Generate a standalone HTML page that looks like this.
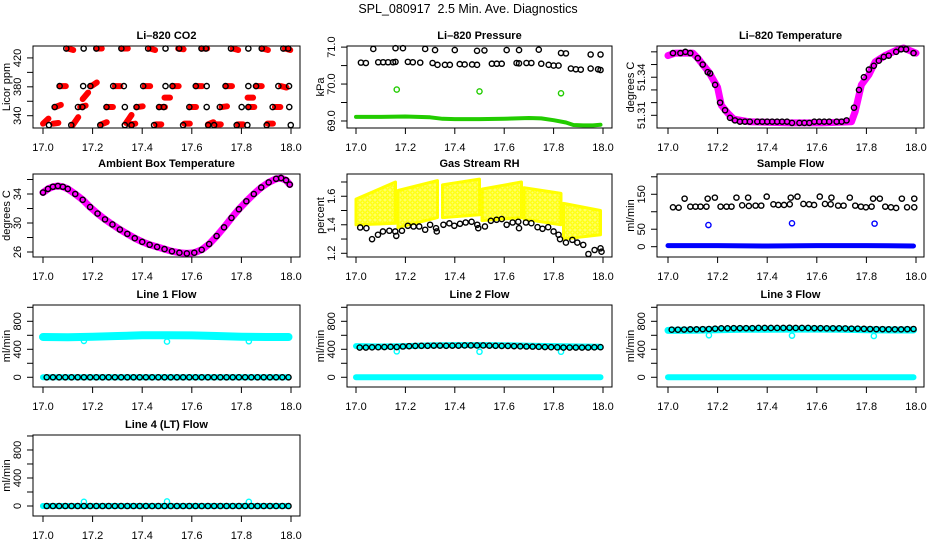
<!DOCTYPE html>
<html><head><meta charset="utf-8"><title>SPL_080917 Diagnostics</title>
<style>
html,body{margin:0;padding:0;background:#fff;}
svg{display:block;font-family:"Liberation Sans",Arial,sans-serif;}
</style></head>
<body>
<svg id="chart" width="936" height="540" viewBox="0 0 936 540" xmlns="http://www.w3.org/2000/svg">
<defs>
<pattern id="ringpat" width="5" height="5" patternUnits="userSpaceOnUse">
<rect width="5" height="5" fill="#ffff66"/>
<circle cx="2.5" cy="2.5" r="1.7" fill="none" stroke="#ffff00" stroke-width="1.2"/>
</pattern>
</defs>
<rect x="0" y="0" width="936" height="540" fill="#fff"/>
<text x="468" y="13" text-anchor="middle" font-size="12.5" style="white-space:pre">SPL_080917  2.5 Min. Ave. Diagnostics</text>
</svg>
<script>
// ---------- data ----------
const xTicks=[17.0,17.2,17.4,17.6,17.8,18.0];
const xTickLabels=["17.0","17.2","17.4","17.6","17.8","18.0"];

// CO2
const co2X=[17.094,17.164,17.215,17.316,17.424,17.494,17.549,17.639,17.657,17.758,17.828,17.882,17.969,17.989,
17.067,17.162,17.191,17.283,17.326,17.404,17.494,17.522,17.616,17.660,17.736,17.828,17.859,17.949,17.992,
17.047,17.141,17.159,17.256,17.330,17.377,17.468,17.487,17.590,17.660,17.713,17.801,17.828,17.926,17.993,
17.024,17.114,17.231,17.330,17.357,17.448,17.565,17.666,17.690,17.781,17.824,17.902,17.999];
const co2Y=[433,433,433,433,433,433,433,433,433,433,433,433,433,433,
381,381,381,381,381,381,381,381,381,381,381,381,381,381,381,
352,352,352,352,352,352,352,352,352,352,352,352,352,352,352,
327,327,327,327,327,327,327,327,327,327,327,327,327];
const co2RedX=[17.10,17.215,17.32,17.43,17.545,17.64,17.765,17.885,17.975,
17.07,17.195,17.29,17.41,17.525,17.62,17.74,17.86,17.96,
17.05,17.15,17.26,17.38,17.47,17.595,17.72,17.83,17.935,
17.16,17.49,17.825,
17.0,17.04,17.12,17.235,17.335,17.35,17.455,17.57,17.665,17.695,17.785,17.905];
const co2RedY0=[433,433,433,433,433,433,433,433,433,381,381,381,381,381,381,381,381,381,352,352,352,352,352,352,352,352,352,363,365,365,329,329,327,328,330,328,328,329,328,328,328,329];
const co2RedY1=[431,433,433,431,432,433,431,431,431,381,386,381,381,381,381,381,381,379,355,354,352,353,352,352,353,352,352,372,365,365,336,330,338,331,341,329,328,329,331,328,328,329];

// Pressure
const prX=[17.07,17.16,17.19,17.28,17.32,17.40,17.49,17.52,17.61,17.66,17.74,17.83,17.85,17.95,17.99,
17.02,17.04,17.09,17.11,17.13,17.15,17.16,17.21,17.23,17.26,17.31,17.33,17.36,17.38,17.42,17.44,17.47,17.49,17.55,17.57,17.59,17.65,17.66,17.69,17.71,17.75,17.78,17.80,17.82,17.87,17.89,17.91,17.95,17.98,17.99];
const prY=[70.95,70.97,70.97,70.95,70.92,70.92,70.90,70.91,70.92,70.92,70.93,70.84,70.83,70.80,70.80,
70.58,70.57,70.59,70.59,70.59,70.59,70.60,70.60,70.59,70.58,70.57,70.52,70.52,70.52,70.54,70.53,70.53,70.52,70.55,70.55,70.55,70.57,70.56,70.57,70.57,70.55,70.52,70.50,70.50,70.42,70.40,70.39,70.42,70.40,70.38];
const prGreenT=[17.0,17.1,17.2,17.3,17.35,17.4,17.5,17.6,17.7,17.75,17.8,17.85,17.88,17.92,17.96,17.99];
const prGreenV=[69.11,69.11,69.12,69.10,69.06,69.05,69.05,69.06,69.08,69.07,69.02,68.96,68.89,68.88,68.88,68.90];
const prOutX=[17.165,17.50,17.83];
const prOutY=[69.85,69.80,69.75];

// Li-820 Temperature
const tempT=[17.0,17.03,17.10,17.12,17.14,17.165,17.20,17.215,17.24,17.265,17.325,17.49,17.62,17.74,17.755,17.78,17.81,17.835,17.875,17.93,17.95,18.0];
const tempV=[51.357,51.359,51.359,51.355,51.350,51.344,51.332,51.318,51.312,51.307,51.305,51.304,51.304,51.305,51.313,51.334,51.342,51.352,51.357,51.362,51.363,51.359];
const tempBX=[17.02,17.05,17.07,17.09,17.12,17.14,17.16,17.17,17.19,17.21,17.23,17.25,17.27,17.29,17.31,17.33,17.36,17.38,17.40,17.42,17.44,17.46,17.48,17.50,17.53,17.55,17.57,17.59,17.61,17.63,17.65,17.68,17.70,17.72,17.75,17.77,17.79,17.81,17.83,17.85,17.87,17.89,17.92,17.94,17.96,17.99];
const tempBY=[51.359,51.359,51.360,51.359,51.355,51.350,51.344,51.343,51.334,51.320,51.314,51.308,51.306,51.305,51.305,51.305,51.305,51.305,51.305,51.305,51.305,51.305,51.305,51.304,51.304,51.304,51.304,51.305,51.305,51.305,51.305,51.305,51.305,51.306,51.316,51.330,51.340,51.346,51.349,51.353,51.356,51.357,51.360,51.362,51.362,51.359];

// Ambient
const ambT=[17.00,17.02,17.04,17.06,17.08,17.10,17.13,17.16,17.19,17.22,17.25,17.28,17.31,17.34,17.37,17.40,17.43,17.46,17.49,17.52,17.55,17.58,17.61,17.64,17.67,17.70,17.73,17.76,17.79,17.82,17.85,17.88,17.91,17.94,17.96,17.98,17.995];
const ambV=[34.2,34.7,35.0,35.1,35.0,34.7,34.0,33.2,32.2,31.3,30.5,29.8,29.1,28.5,27.9,27.4,27.0,26.7,26.4,26.1,25.9,25.8,25.9,26.3,27.1,28.2,29.4,30.7,31.9,33.0,34.0,34.9,35.6,36.1,36.2,35.9,35.3];

// Gas Stream RH
const rhSegX0=[17.00,17.17,17.35,17.51,17.68,17.84];
const rhSegX1=[17.16,17.33,17.50,17.67,17.83,17.99];
const rhTop0=[1.58,1.64,1.68,1.65,1.66,1.55];
const rhTop1=[1.70,1.71,1.72,1.70,1.62,1.50];
const rhBot0=[1.40,1.38,1.45,1.43,1.44,1.30];
const rhBot1=[1.41,1.45,1.47,1.45,1.40,1.33];
const rhX=[17.017,17.042,17.065,17.089,17.109,17.135,17.159,17.163,17.186,17.21,17.233,17.256,17.28,17.30,17.324,17.327,17.354,17.378,17.398,17.421,17.444,17.468,17.491,17.495,17.522,17.546,17.569,17.59,17.61,17.634,17.657,17.66,17.688,17.71,17.735,17.755,17.778,17.80,17.82,17.826,17.85,17.876,17.896,17.92,17.941,17.966,17.99,17.994];
const rhY=[1.381,1.376,1.299,1.330,1.353,1.358,1.353,1.322,1.358,1.393,1.388,1.388,1.365,1.400,1.376,1.353,1.400,1.410,1.393,1.407,1.416,1.421,1.400,1.376,1.388,1.428,1.435,1.440,1.400,1.416,1.421,1.376,1.416,1.411,1.383,1.372,1.383,1.353,1.330,1.299,1.275,1.294,1.275,1.259,1.195,1.223,1.235,1.211];

// Sample Flow
const sfX=[17.020,17.043,17.067,17.090,17.111,17.131,17.155,17.160,17.189,17.212,17.236,17.256,17.276,17.299,17.323,17.326,17.353,17.376,17.398,17.425,17.445,17.468,17.491,17.495,17.522,17.546,17.569,17.589,17.612,17.633,17.656,17.659,17.686,17.708,17.733,17.755,17.778,17.798,17.821,17.827,17.854,17.876,17.899,17.920,17.943,17.964,17.993,17.993];
const sfY=[112.7,111.7,137.5,114.6,114.6,114.6,114.6,137.5,140.4,114.6,114.6,114.6,140.4,118.4,140.4,116.5,117.5,117.5,143.3,121.3,119.4,119.4,121.3,140.4,143.3,122.3,121.3,119.4,143.3,122.3,121.3,140.4,117.5,117.5,140.4,117.5,114.6,112.7,114.6,137.5,137.5,114.6,112.7,110.8,137.5,112.7,112.7,137.5];
const sfBlueT=[17.0,17.2,17.4,17.6,17.8,17.99];
const sfBlueV=[3,3,2,3,3,2];
const sfOutX=[17.163,17.50,17.833];
const sfOutY=[62,67,66];

// Line flows
const lfT=[17.015,17.04,17.065,17.09,17.115,17.14,17.165,17.19,17.215,17.24,17.265,17.29,17.315,17.34,17.365,17.39,17.415,17.44,17.465,17.49,17.515,17.54,17.565,17.59,17.615,17.64,17.665,17.69,17.715,17.74,17.765,17.79,17.815,17.84,17.865,17.89,17.915,17.94,17.965,17.99];
const line1Black=[0,0,0,0,0,0,0,0,0,0,0,0,0,0,0,0,0,0,0,0,0,0,0,0,0,0,0,0,0,0,0,0,0,0,0,0,0,0,0,0];
const line2Black=[425,425,428,430,432,435,432,440,445,448,450,450,452,452,450,452,452,455,455,455,455,452,450,448,448,445,442,440,438,435,432,430,428,425,425,425,425,425,428,430];
const line3Black=[680,680,682,685,685,688,690,695,700,700,702,702,702,702,705,705,705,705,705,708,705,705,705,702,702,700,700,700,698,695,695,692,690,688,688,685,685,685,688,690];
const line4Black=[0,0,0,0,0,0,0,0,0,0,0,0,0,0,0,0,0,0,0,0,0,0,0,0,0,0,0,0,0,0,0,0,0,0,0,0,0,0,0,0];
const bandT=[17.0,17.1,17.2,17.3,17.4,17.5,17.6,17.7,17.8,17.9,17.99];
const line1Cyan=[575,572,578,590,600,600,598,590,580,575,575];
const line2Cyan=[445,440,445,455,460,460,458,450,445,440,435];
const line3Cyan=[670,672,680,685,685,688,688,685,680,675,675];
const line4Cyan=[0,0,0,0,0,0,0,0,0,0,0];
const zeroCyan=[0,0,0,0,0,0,0,0,0,0,0];
const cyanOutX=[17.165,17.50,17.83];
const line1Out=[520,510,515];
const line2Out=[370,365,365];
const line3Out=[600,595,590];
const line4Out=[60,65,60];

// ---------- drawing ----------
const NS="http://www.w3.org/2000/svg";
const svg=document.getElementById('chart');
function mk(tag,attrs,parent){const e=document.createElementNS(NS,tag);for(const k in attrs)e.setAttribute(k,attrs[k]);(parent||svg).appendChild(e);return e;}

const cols=[{bl:33,br:300,xa:43,xb:291},{bl:347,br:612,xa:356,xb:603},{bl:657,br:924,xa:668,xb:916}];
const rows=[{t:46,b:128},{t:174,b:257},{t:305,b:387},{t:435,b:516}];

function panel(name,c,r,ymin,ymax,yt,yl,title,ylab){
  const C=cols[c],R=rows[r];
  const g=mk('g',{});
  
  
  const sx=v=>C.xa+(v-17)*(C.xb-C.xa);
  const sy=v=>R.t+(ymax-v)/(ymax-ymin)*(R.b-R.t);
  const plot=mk('g',{},g);
  
  
  const box=mk('rect',{x:C.bl,y:R.t,width:C.br-C.bl,height:R.b-R.t,fill:'none',stroke:'#000','stroke-width':1},g);
  
  
  const xax=mk('line',{x1:sx(17),x2:sx(18),y1:R.b,y2:R.b,stroke:'#000'},g);
  
  
  xTicks.forEach((v,i)=>{
    const tk=mk('line',{x1:sx(v),x2:sx(v),y1:R.b,y2:R.b+6,stroke:'#000'},g);
    
    
    const tl=mk('text',{x:sx(v),y:R.b+23,'text-anchor':'middle','font-size':11},g);
    tl.textContent=xTickLabels[i];
    
    
  });
  yt.forEach(v=>{
    const tk=mk('line',{x1:C.bl-6,x2:C.bl,y1:sy(v),y2:sy(v),stroke:'#000'},g);
    
    
  });
  yl.forEach(v=>{
    const tl=mk('text',{x:0,y:0,'text-anchor':'middle','dominant-baseline':'central','font-size':11,transform:`translate(${C.bl-15},${sy(v)}) rotate(-90)`},g);
    tl.textContent=String(v);
    
    
  });
  const tt=mk('text',{x:(C.bl+C.br)/2,y:R.t-7,'text-anchor':'middle','font-size':11,'font-weight':'bold'},g);
  tt.textContent=title;
  
  
  const yt2=mk('text',{x:0,y:0,'text-anchor':'middle','dominant-baseline':'central','font-size':11,transform:`translate(${C.bl-26},${(R.t+R.b)/2}) rotate(-90)`},g);
  yt2.textContent=ylab;
  
  
  return {g:plot,sx,sy};
}
function rings(P,xs,ys,col,name,r,w){
  xs.forEach((x,i)=>{
    const c=mk('circle',{cx:P.sx(x),cy:P.sy(ys[i]),r:r||2.6,fill:'none',stroke:col,'stroke-width':w||1.4},P.g);
    
    
  });
}
function band(P,xs,ys,col,width,name){
  const pts=xs.map((x,i)=>P.sx(x).toFixed(1)+','+P.sy(ys[i]).toFixed(1)).join(' ');
  const l=mk('polyline',{points:pts,fill:'none',stroke:col,'stroke-width':width,'stroke-linejoin':'round','stroke-linecap':'round'},P.g);
  
  
}

// Li-820 CO2
let P=panel('co2',0,0,323,436.5,[340,360,380,400,420],[340,380,420],'Li\u2013820 CO2','Licor ppm');
co2RedX.forEach((x,i)=>{
  const s=mk('line',{x1:P.sx(x),y1:P.sy(co2RedY0[i]),x2:P.sx(x+0.022),y2:P.sy(co2RedY1[i]),stroke:'#f00','stroke-width':6,'stroke-linecap':'round'},P.g);
  
  
});
rings(P,co2X,co2Y,'#000','co2-black-point');

// Pressure
P=panel('pressure',1,0,68.81,71.03,[69.0,69.5,70.0,70.5,71.0],['69.0','70.0','71.0'],'Li\u2013820 Pressure','kPa');
band(P,prGreenT,prGreenV,'#22cc00',4,'pressure-green-band');
rings(P,prOutX,prOutY,'#22cc00','pressure-green-outlier');
rings(P,prX,prY,'#000','pressure-black-point');

// Temperature
P=panel('li820-temp',2,0,51.300,51.3646,[51.31,51.32,51.33,51.34,51.35,51.36],['51.31','51.34'],'Li\u2013820 Temperature','degrees C');
band(P,tempT,tempV,'#ff00ff',7,'li820-temp-magenta-band');
rings(P,tempBX,tempBY,'#000','li820-temp-black-point');

// Ambient
P=panel('ambient',0,1,25.31,36.76,[26,28,30,32,34,36],[26,30,34],'Ambient Box Temperature','degrees C');
band(P,ambT,ambV,'#ff00ff',7,'ambient-magenta-band');
rings(P,ambT,ambV,'#000','ambient-black-point');

// RH
P=panel('rh',1,1,1.174,1.756,[1.2,1.3,1.4,1.5,1.6,1.7],['1.2','1.4','1.6'],'Gas Stream RH','percent');
rhSegX0.forEach((x0,i)=>{
  const x1=rhSegX1[i];
  const pts=[[x0,rhTop0[i]],[x1,rhTop1[i]],[x1,rhBot1[i]],[x0,rhBot0[i]]].map(p=>P.sx(p[0]).toFixed(1)+','+P.sy(p[1]).toFixed(1)).join(' ');
  const pg=mk('polygon',{points:pts,fill:'url(#ringpat)',stroke:'#ffff00','stroke-width':3,'stroke-linejoin':'round'},P.g);
  
  
});
rings(P,rhX,rhY,'#000','rh-black-point');

// Sample flow
P=panel('sample-flow',2,1,-29.5,208,[0,50,100,150,200],[0,50,150],'Sample Flow','ml/min');
band(P,sfBlueT,sfBlueV,'#0000ff',5,'sample-flow-blue-band');
rings(P,sfOutX,sfOutY,'#0000ff','sample-flow-blue-outlier');
rings(P,sfX,sfY,'#000','sample-flow-black-point');

// Line flows
const lfTicks=[0,200,400,600,800,1000], lfLabels=[0,400,800];
const lines=[
 ['line1',0,2,'Line 1 Flow',line1Cyan,line1Black,line1Out,8],
 ['line2',1,2,'Line 2 Flow',line2Cyan,line2Black,line2Out,6],
 ['line3',2,2,'Line 3 Flow',line3Cyan,line3Black,line3Out,7],
 ['line4',0,3,'Line 4 (LT) Flow',line4Cyan,line4Black,line4Out,6]
];
lines.forEach(L=>{
  const Q=panel(L[0],L[1],L[2],L[2]===3?-143:-139,L[2]===3?1014:1033,lfTicks,lfLabels,L[3],'ml/min');
  band(Q,bandT,zeroCyan,'#00ffff',6,L[0]+'-cyan-zero-band');
  band(Q,bandT,L[4],'#00ffff',L[7],L[0]+'-cyan-band');
  rings(Q,cyanOutX,L[6],'#00ffff',L[0]+'-cyan-outlier');
  rings(Q,lfT,L[5],'#000',L[0]+'-black-point');
});
</script>
</body></html>
